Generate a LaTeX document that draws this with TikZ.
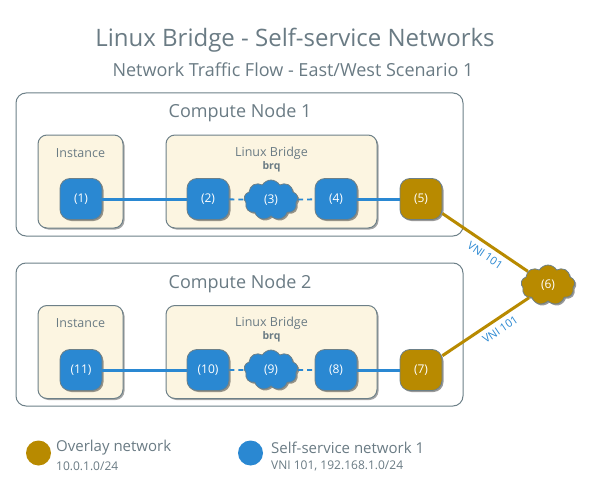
\documentclass[tikz,border=0pt]{standalone}
\usepackage{fontspec}
\setmainfont{Open Sans}
\usetikzlibrary{shapes.symbols,shadows}
\definecolor{txtgray}{HTML}{6A7B84}
\definecolor{bordergray}{HTML}{6D8088}
\definecolor{cream}{HTML}{FCF5E1}
\definecolor{netblue}{HTML}{2A88D2}
\definecolor{netgold}{HTML}{B88A00}
\tikzset{
  outerbox/.style={draw=bordergray, line width=1pt, rounded corners=10pt, fill=white, inner sep=0pt},
  innerbox/.style={draw=bordergray, line width=1pt, rounded corners=9pt, fill=cream, inner sep=0pt,
    drop shadow={shadow xshift=1.5pt, shadow yshift=-1.5pt, opacity=0.35, fill=black}},
  port/.style={draw=bordergray, line width=0.8pt, rounded corners=10pt, minimum width=42pt, minimum height=41pt,
    inner sep=0pt, text=white, font=\fontsize{12}{14}\selectfont,
    drop shadow={shadow xshift=1.5pt, shadow yshift=-1.5pt, opacity=0.4, fill=black}},
  blueport/.style={port, fill=netblue},
  goldport/.style={port, fill=netgold},
  netcloud/.style={cloud, cloud puffs=9, cloud puff arc=120, aspect=1.4, draw=bordergray, line width=0.8pt,
    minimum width=54pt, minimum height=40pt, inner sep=0pt, text=white, font=\fontsize{12}{14}\selectfont,
    drop shadow={shadow xshift=1.5pt, shadow yshift=-1.5pt, opacity=0.4, fill=black}},
  boxlabel/.style={text=txtgray, font=\fontsize{12.5}{15}\selectfont, inner sep=0pt},
  sublabel/.style={text=txtgray, font=\fontsize{10.5}{12}\selectfont\bfseries, inner sep=0pt},
  nodetitle/.style={text=txtgray, font=\fontsize{18}{21}\selectfont, inner sep=0pt},
  bluelink/.style={draw=netblue, line width=3pt},
  bluedash/.style={draw=netblue, line width=1.8pt, dash pattern=on 5pt off 4pt},
  goldlink/.style={draw=netgold, line width=3pt},
  vnilabel/.style={text=netblue, font=\fontsize{11}{13}\selectfont, inner sep=0pt},
  legendtxt/.style={text=txtgray, font=\fontsize{15}{18}\selectfont, inner sep=0pt, anchor=west},
  legendsub/.style={text=txtgray, font=\fontsize{12}{14}\selectfont, inner sep=0pt, anchor=west},
}
\begin{document}
\begin{tikzpicture}[x=1pt,y=-1pt]
\useasboundingbox (0,0) rectangle (595,495);
\fill[white] (0,0) rectangle (595,495);

\node[text=txtgray, font=\fontsize{24}{28}\selectfont, inner sep=0pt] (title) at (295,40) {Linux Bridge - Self-service Networks};
\node[text=txtgray, font=\fontsize{18}{21}\selectfont, inner sep=0pt] (subtitle) at (293,70) {Network Traffic Flow - East/West Scenario 1};

% Compute node 1
\node[outerbox, minimum width=447pt, minimum height=143pt] (cn1) at (239.5,164.5) {};
\node[nodetitle] (cn1t) at (240,113) {Compute Node 1};
\node[innerbox, minimum width=85pt, minimum height=93pt] (inst1) at (80.5,181.5) {};
\node[boxlabel] (inst1t) at (80.5,153) {Instance};
\node[innerbox, minimum width=211pt, minimum height=93pt] (br1) at (271.5,181.5) {};
\node[boxlabel] (br1t) at (271.5,153) {Linux Bridge};
\node[sublabel] (br1s) at (271.5,167) {brq};

% Compute node 2
\node[outerbox, minimum width=447pt, minimum height=143pt] (cn2) at (239.5,334.5) {};
\node[nodetitle] (cn2t) at (240,284) {Compute Node 2};
\node[innerbox, minimum width=85pt, minimum height=93pt] (inst2) at (80.5,352) {};
\node[boxlabel] (inst2t) at (80.5,323) {Instance};
\node[innerbox, minimum width=211pt, minimum height=93pt] (br2) at (271.5,352) {};
\node[boxlabel] (br2t) at (271.5,323) {Linux Bridge};
\node[sublabel] (br2s) at (271.5,337) {brq};

% ports
\node[blueport] (p1) at (81,199) {(1)};
\node[blueport] (p2) at (208,199) {(2)};
\node[netcloud, fill=netblue] (p3) at (271,200) {(3)};
\node[blueport] (p4) at (336,199) {(4)};
\node[goldport] (p5) at (421,199) {(5)};
\node[netcloud, fill=netgold] (p6) at (548,285) {(6)};

\node[blueport] (p11) at (81,370) {(11)};
\node[blueport] (p10) at (208,370) {(10)};
\node[netcloud, fill=netblue] (p9) at (271,370) {(9)};
\node[blueport] (p8) at (336,370) {(8)};
\node[goldport] (p7) at (421,370) {(7)};

\draw[bluelink] (p1) -- (p2);
\draw[bluedash] (p2) -- (p3);
\draw[bluedash] (p3) -- (p4);
\draw[bluelink] (p4) -- (p5);
\draw[goldlink] (p5) -- node[vnilabel, sloped, below=5pt, pos=0.57] {VNI 101} (p6);

\draw[bluelink] (p11) -- (p10);
\draw[bluedash] (p10) -- (p9);
\draw[bluedash] (p9) -- (p8);
\draw[bluelink] (p8) -- (p7);
\draw[goldlink] (p7) -- node[vnilabel, sloped, below=5pt, pos=0.6] {VNI 101} (p6);

% legend
\node[circle, fill=netgold, minimum size=25pt, inner sep=0pt] (lg1) at (38.5,453) {};
\node[legendtxt] (lg1t) at (56,448) {Overlay network};
\node[legendsub] (lg1s) at (56,466) {10.0.1.0/24};
\node[circle, fill=netblue, minimum size=25pt, inner sep=0pt] (lg2) at (250.5,453) {};
\node[legendtxt] (lg2t) at (271,448) {Self-service network 1};
\node[legendsub] (lg2s) at (271,466) {VNI 101, 192.168.1.0/24};
\end{tikzpicture}
\end{document}
